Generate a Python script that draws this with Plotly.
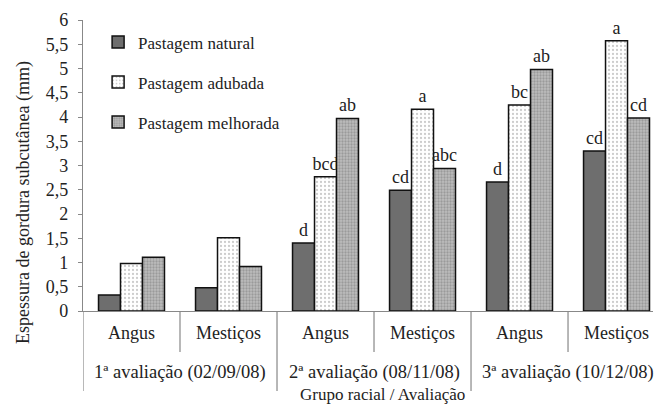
import plotly.graph_objects as go

categories = ["Angus", "Mestiços", "Angus", "Mestiços", "Angus", "Mestiços"]
groups = ["1ª avaliação (02/09/08)", "2ª avaliação (08/11/08)", "3ª avaliação (10/12/08)"]
series_names = ["Pastagem natural", "Pastagem adubada", "Pastagem melhorada"]
natural = [0.33, 0.48, 1.40, 2.49, 2.66, 3.30]
adubada = [0.98, 1.51, 2.77, 4.16, 4.25, 5.57]
melhorada = [1.11, 0.92, 3.97, 2.94, 4.98, 3.98]
letters_natural = ["", "", "d", "cd", "d", "cd"]
letters_adubada = ["", "", "bcd", "a", "bc", "a"]
letters_melhorada = ["", "", "ab", "abc", "ab", "cd"]
y_ticks = [0, 0.5, 1, 1.5, 2, 2.5, 3, 3.5, 4, 4.5, 5, 5.5, 6]

FONT = "Liberation Serif"
FS = 17
FS_AX = 18
TXT = "#222222"
xs = list(range(len(categories)))

# page body has an 8px margin: figure spans window pixels 8..662 x 8..405
OFF = 8
PL, PR, PT, PB = 83, 653, 20, 311   # plot area in window pixels (reference)
W, H = 662 - OFF, 405 - OFF
PW, PH = PR - PL, PB - PT


def px_x(wx):
    return (wx - PL) / PW


def px_y(wy):
    return (PB - wy) / PH


fig = go.Figure()
styles = [
    dict(color="#6e6e6e"),
    dict(color="#ffffff", pattern=dict(shape=".", fgcolor="#9a9a9a", bgcolor="#ffffff", size=4, solidity=0.25)),
    dict(color="#a8a8a8", pattern=dict(shape=".", fgcolor="#777777", bgcolor="#bdbdbd", size=3, solidity=0.45)),
]
for name, vals, txt, st, grp in zip(series_names, [natural, adubada, melhorada],
                                    [letters_natural, letters_adubada, letters_melhorada], styles,
                                    ["g1", "g2", "g3"]):
    fig.add_trace(go.Bar(
        x=xs, y=vals, name=name, text=txt, textposition="outside",
        textfont=dict(family=FONT, size=FS_AX, color=TXT),
        constraintext="none", cliponaxis=False, legendgroup=grp,
        marker=dict(line=dict(color="#111111", width=1.5), **st),
    ))

ann = []
for i, g in enumerate(groups):
    ann.append(dict(x=2 * i + 0.5, y=px_y(372), xref="x", yref="paper", text=g, showarrow=False,
                    font=dict(family=FONT, size=18.5, color=TXT), yanchor="middle"))
ann.append(dict(x=px_x(382), y=px_y(395), xref="paper", yref="paper", text="Grupo racial / Avaliação",
                showarrow=False, font=dict(family=FONT, size=17, color=TXT), yanchor="middle"))
ann.append(dict(x=px_x(23), y=px_y(203), xref="paper", yref="paper",
                text="Espessura de gordura subcutânea (mm)", textangle=-90, showarrow=False,
                font=dict(family=FONT, size=FS_AX, color=TXT), xanchor="center", yanchor="middle"))

shapes = []
for xv in [0.5, 2.5, 4.5]:
    shapes.append(dict(type="line", xref="x", yref="paper", x0=xv, x1=xv, y0=0, y1=px_y(352),
                       line=dict(color="#888888", width=1.2)))
for xv in [-0.5, 1.5, 3.5]:
    shapes.append(dict(type="line", xref="x", yref="paper", x0=xv, x1=xv, y0=0, y1=px_y(391),
                       line=dict(color="#888888", width=1.2)))

fig.update_layout(
    width=W, height=H,
    margin=dict(l=PL - OFF, r=W - (PR - OFF), t=PT - OFF, b=H - (PB - OFF), autoexpand=False),
    plot_bgcolor="white", paper_bgcolor="white",
    separators=",.",
    barmode="group", bargap=0.32, bargroupgap=0,
    font=dict(family=FONT, size=FS, color=TXT),
    showlegend=True,
    legend=dict(x=0.03 - 2 / PW, y=0.985, xanchor="left", yanchor="top", bgcolor="rgba(0,0,0,0)",
                tracegroupgap=15, font=dict(family=FONT, size=FS, color=TXT)),
    annotations=ann, shapes=shapes,
)
fig.update_xaxes(range=[-0.5, 5.376], tickvals=xs, ticktext=categories, showline=True, automargin=False,
                 linecolor="#888888", linewidth=1.2, ticks="", showgrid=False, zeroline=False,
                 ticklabelstandoff=5, tickfont=dict(family=FONT, size=FS_AX, color=TXT))
fig.update_yaxes(range=[0, 6], tickvals=y_ticks, showline=True, linecolor="#888888", linewidth=1.2,
                 automargin=False,
                 ticks="outside", ticklen=4, tickcolor="#888888", showgrid=False, zeroline=False,
                 tickfont=dict(family=FONT, size=FS_AX, color=TXT), ticklabelstandoff=6)
fig.write_html("out.html")
